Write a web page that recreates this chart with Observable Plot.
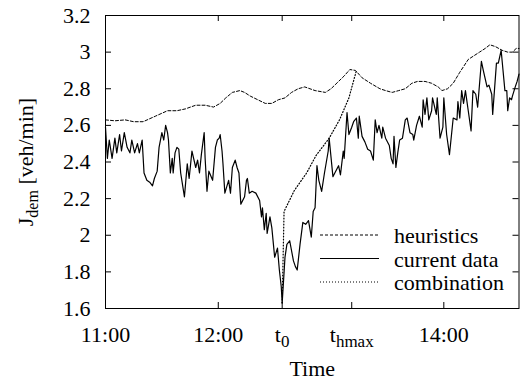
<!DOCTYPE html>
<html><head><meta charset="utf-8">
<script src="https://cdn.jsdelivr.net/npm/d3@7"></script>
<script src="https://cdn.jsdelivr.net/npm/@observablehq/plot@0.6"></script>
<style>
body{margin:0;background:#fff;}
svg{display:block}
</style>
</head><body><div id="chart"></div>
<script>
// minutes after 11:00
const currentMin = [0,1,2,3.5,5,6,7.5,8.5,10,11.5,13,14,15.5,17,18,19.5,20.5,22,23.5,25,26,27.5,28.5,30,31,32,33,33.5,34.5,35.5,36,37,38,39,40,42,43.5,44.5,46,48,49,50,51,52.5,53,54,55,57,58.5,59.5,60.5,61,62,62.5,63.5,65.5,66.5,67.5,69,70,71,72,74,75,75.5,76.5,78,80,82,83,83.5,84.5,85.5,86,87.5,88.5,90,91.5,92.5,93.5,94,95.5,96.5,98,100,101,102,103.5,105,106.5,108,109.5,110.5,111.5,112.5,113.5,115,116.5,118.5,119,121,122,124,125,126.5,127,128.5,129.5,131,132,133.5,134.5,135,136.5,138,139.5,141,142.5,143.5,144.5,145.5,147,147.5,149,151,152,153,153.5,154.5,155.5,156.5,158,159.5,160.5,162,163.5,164,165.5,167,168.5,169,170,171,172,173.5,174,176,176.5,178,179.5,180,181.5,183,185,187,187.5,188.5,189.5,190.5,191.5,193,194.5,195.5,197,198,200,201,203,204,205.5,206,208,209,210.5,211.5,212.5,213.5,214,215,216,216.5,218,219,220];
const currentVal = [2.59,2.42,2.52,2.42,2.53,2.45,2.55,2.46,2.56,2.48,2.45,2.52,2.45,2.50,2.45,2.52,2.34,2.30,2.29,2.27,2.31,2.35,2.48,2.56,2.52,2.60,2.56,2.52,2.34,2.42,2.34,2.45,2.48,2.47,2.34,2.21,2.39,2.31,2.46,2.37,2.41,2.34,2.44,2.56,2.42,2.24,2.35,2.30,2.48,2.52,2.53,2.55,2.46,2.39,2.23,2.30,2.23,2.37,2.41,2.37,2.34,2.17,2.21,2.30,2.31,2.23,2.24,2.23,2.19,2.10,2.15,2.03,2.12,2.01,2.10,2.04,1.88,1.93,1.81,1.72,1.63,1.88,1.95,1.97,1.86,1.83,1.81,1.95,2.07,2.06,2.08,1.99,2.13,2.15,2.38,2.30,2.24,2.34,2.46,2.53,2.32,2.34,2.38,2.33,2.46,2.42,2.67,2.55,2.59,2.62,2.64,2.53,2.65,2.54,2.51,2.47,2.46,2.41,2.63,2.56,2.60,2.53,2.59,2.53,2.49,2.42,2.39,2.54,2.37,2.45,2.52,2.53,2.63,2.64,2.56,2.55,2.52,2.60,2.65,2.59,2.74,2.66,2.75,2.63,2.68,2.75,2.66,2.75,2.53,2.59,2.75,2.55,2.44,2.64,2.63,2.73,2.64,2.79,2.72,2.79,2.68,2.57,2.79,2.77,2.70,2.95,2.90,2.81,2.82,2.77,2.66,2.94,2.94,3.01,2.90,2.79,2.79,2.68,2.75,2.74,2.76,2.81,2.84,2.88];
const heurMin = [0,5,10.5,15,20,26.5,33,38,42.5,48,53,57.5,61,64,67.5,71.5,74,77,81,85,88.5,92,95.5,99,102.5,106,111.5,117,120,124,127,130,133,136.5,141,146,149,152.5,156,159.5,163,166,170,173.5,177,179,182,185,188.5,193,196,199,202,204.5,207.5,211,214,216.5,218.5,220];
const heurVal = [2.63,2.625,2.63,2.62,2.62,2.65,2.68,2.68,2.69,2.71,2.71,2.70,2.72,2.75,2.78,2.79,2.78,2.76,2.74,2.72,2.72,2.74,2.75,2.78,2.80,2.81,2.79,2.78,2.80,2.84,2.87,2.905,2.90,2.86,2.83,2.80,2.79,2.78,2.79,2.80,2.83,2.84,2.84,2.83,2.81,2.79,2.80,2.83,2.89,2.96,2.98,3.00,3.02,3.04,3.03,3.01,3.00,3.00,3.02,3.02];
const combMin = [94,95,100.5,107,112,119,124.5,129.5,133.5];
const combVal = [1.63,2.13,2.245,2.34,2.435,2.53,2.63,2.75,2.90];

const xTickValues = [0,60,94,131,180];
const xTickLabels = ["11:00","12:00","t0","thmax","14:00"];
const yTickValues = [1.6,1.8,2,2.2,2.4,2.6,2.8,3,3.2];
const yTickLabels = ["1.6","1.8","2","2.2","2.4","2.6","2.8","3","3.2"];
const seriesNames = ["heuristics","current data","combination"];
const xLabel = "Time";
const yLabel = "Jdem [veh/min]";

const toRows = (m, v) => m.map((t, i) => ({t, v: v[i]}));
const current = toRows(currentMin, currentVal);
const heur = toRows(heurMin, heurVal);
const comb = toRows(combMin, combVal);

const FONT = '"Liberation Serif","Times New Roman",Times,serif';
const FS = "22px";
const W = 520, H = 380, mL = 105, mR = 1.5, mT = 15, mB = 72;
const innerW = W - mL - mR, innerH = H - mT - mB;
const tk = 6;

const chart = Plot.plot({
  width: W, height: H, marginLeft: mL, marginRight: mR, marginTop: mT, marginBottom: mB,
  style: {fontFamily: FONT, fontSize: FS, color: "#000", background: "#fff"},
  x: {domain: [0, 220]},
  y: {domain: [1.6, 3.2]},
  marks: [
    Plot.axisX({ticks: xTickValues, tickFormat: d => xTickLabels[xTickValues.indexOf(d)], tickSize: 0, tickPadding: 18, label: null}),
    Plot.axisY({ticks: yTickValues, tickFormat: d => yTickLabels[yTickValues.indexOf(d)], tickSize: 0, tickPadding: 15, label: null}),
    Plot.tickX(xTickValues, {x: d => d, insetTop: innerH - tk, stroke: "#000"}),
    Plot.tickX(xTickValues, {x: d => d, insetBottom: innerH - tk, stroke: "#000"}),
    Plot.tickY(yTickValues, {y: d => d, insetRight: innerW - tk, stroke: "#000"}),
    Plot.tickY(yTickValues, {y: d => d, insetLeft: innerW - tk, stroke: "#000"}),
    Plot.line(heur, {x: "t", y: "v", stroke: "#000", strokeWidth: 1, strokeDasharray: "3,2"}),
    Plot.line(comb, {x: "t", y: "v", stroke: "#000", strokeWidth: 1.2, strokeDasharray: "1,2"}),
    Plot.line(current, {x: "t", y: "v", stroke: "#000", strokeWidth: 1.2}),
    Plot.frame({stroke: "#000", strokeWidth: 1}),
    Plot.text([yLabel], {text: d => d, frameAnchor: "left", dx: -80, rotate: -90, textAnchor: "middle", lineAnchor: "middle"}),
    Plot.text([xLabel], {text: d => d, frameAnchor: "bottom", dy: 67, textAnchor: "middle", lineAnchor: "bottom"})
  ]
});
document.getElementById("chart").appendChild(chart);

const svg = d3.select(chart);
function subscript(el, base, sub, rest, subSize) {
  const t = d3.select(el);
  t.text(null);
  t.append("tspan").text(base);
  t.append("tspan").attr("dy", 5).attr("font-size", subSize).text(sub);
  if (rest) t.append("tspan").attr("dy", -5).attr("font-size", FS).text(rest);
}
svg.selectAll("text").each(function() {
  const s = this.textContent;
  if (s === "t0") subscript(this, "t", "0", null, "17px");
  else if (s === "thmax") subscript(this, "t", "hmax", null, "17px");
  else if (s === yLabel) subscript(this, "J", "dem", "\u00a0[veh/min]", "16px");
});

const legendStyles = [{dash: "3,2", w: 1}, {dash: null, w: 1.2}, {dash: "1,2", w: 1.2}];
const lg = svg.append("g").style("font-family", FONT).style("font-size", FS).attr("text-anchor", "start");
seriesNames.forEach((name, i) => {
  const y = 235 + i * 23.5;
  lg.append("line").attr("x1", 320).attr("x2", 379).attr("y1", y).attr("y2", y)
    .attr("stroke", "#000").attr("stroke-width", legendStyles[i].w)
    .attr("stroke-dasharray", legendStyles[i].dash);
  lg.append("text").attr("x", 394).attr("y", y + 8).attr("fill", "#000").attr("text-anchor", "start").text(name);
});
</script>
</body></html>
